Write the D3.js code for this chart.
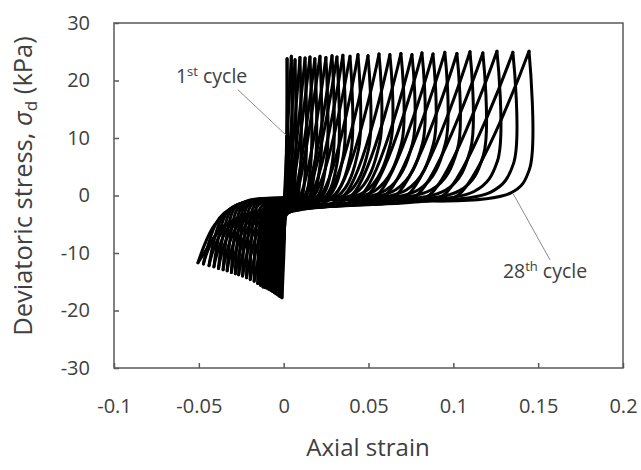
<!DOCTYPE html>
<html>
<head>
<meta charset="utf-8">
<script src="https://cdn.jsdelivr.net/npm/d3@7"></script>
<style>
  body { margin: 0; background: #ffffff; }
  text { font-family: "Open Sans", "Noto Sans", sans-serif; fill: #404040; }
</style>
</head>
<body>
<svg id="chart" width="641" height="470"></svg>
<script>
  // axis ticks
  var xTicks = [-0.1, -0.05, 0, 0.05, 0.1, 0.15, 0.2];
  var yTicks = [-30, -20, -10, 0, 10, 20, 30];

  // 28 cycles (strain, kPa)
  // compression peaks
  var peakStrain = [0.0020, 0.0045, 0.0067, 0.0096, 0.0126, 0.0155, 0.0184, 0.0214, 0.0249, 0.0285,
                    0.0314, 0.0349, 0.0391, 0.0438, 0.0497, 0.0562, 0.0626, 0.0691, 0.0756, 0.0815,
                    0.0880, 0.0950, 0.1021, 0.1098, 0.1174, 0.1257, 0.1351, 0.1446];
  var peakStress = [23.8, 24.2, 23.6, 24.0, 23.9, 24.1, 23.8, 24.2, 24.0, 24.3,
                    24.1, 24.4, 24.2, 24.5, 24.3, 24.6, 24.5, 24.7, 24.5, 24.8,
                    24.6, 24.9, 24.7, 25.0, 24.8, 25.1, 24.9, 25.1];
  // near-vertical unloading below each peak
  var vertStrain = [0.0022, 0.0048, 0.0070, 0.0099, 0.0129, 0.0158, 0.0187, 0.0217, 0.0252, 0.0288,
                    0.0317, 0.0352, 0.0394, 0.0441, 0.0500, 0.0565, 0.0629, 0.0694, 0.0759, 0.0818,
                    0.0883, 0.0953, 0.1024, 0.1101, 0.1177, 0.1260, 0.1354, 0.1448];
  var vertStress = [4, 4, 5, 5, 5, 5, 6, 6, 6, 6, 6, 7, 7, 8, 8, 9, 9, 9, 9, 9, 9, 9, 8, 8, 7, 6, 5.5, 4.5];
  // bottom-right knee of each loop
  var kneeStrain = [0.0012, 0.0030, 0.0045, 0.0066, 0.0090, 0.0110, 0.0132, 0.0155, 0.0182, 0.0210,
                    0.0232, 0.0255, 0.0281, 0.0318, 0.0367, 0.0422, 0.0476, 0.0536, 0.0601, 0.0660,
                    0.0725, 0.0795, 0.0871, 0.0953, 0.1034, 0.1122, 0.1221, 0.1336];
  var kneeStress = [-1.5, -1.4, -1.3, -1.2, -1.1, -1.0, -0.9, -0.8, -0.7, -0.6,
                    -0.5, -0.4, -0.3, -0.1, 0.2, 0.4, 0.6, 0.8, 0.9, 1.0,
                    1.0, 1.0, 1.0, 0.9, 0.8, 0.7, 0.6, 0.4];
  // stress where unloading passes zero strain
  var zeroStress = [-1.6, -1.5, -1.4, -1.3, -1.2, -1.1, -1.0, -1.0, -0.9, -0.9,
                    -0.8, -0.8, -0.8, -0.7, -0.7, -0.7, -0.6, -0.6, -0.6, -0.6,
                    -0.5, -0.5, -0.5, -0.5, -0.5, -0.5, -0.4, -0.4];
  // upper edge of the extension tail
  var shoulderStrain = [-0.0004, -0.0007, -0.0010, -0.0015, -0.0020, -0.0025, -0.0029, -0.0034, -0.0040, -0.0045,
                        -0.0050, -0.0055, -0.0062, -0.0069, -0.0078, -0.0089, -0.0099, -0.0109, -0.0119, -0.0128,
                        -0.0139, -0.0150, -0.0161, -0.0173, -0.0185, -0.0198, -0.0213, -0.0227];
  var shoulderStress = [-3.0, -2.8, -2.6, -2.4, -2.2, -2.0, -1.8, -1.6, -1.4, -1.3,
                        -1.2, -1.2, -1.1, -1.0, -0.9, -0.8, -0.75, -0.75, -0.75, -0.75,
                        -0.8, -0.8, -0.85, -0.85, -0.9, -0.95, -1.0, -1.05];
  var turnStrain = [-0.0008, -0.0014, -0.0020, -0.0028, -0.0036, -0.0044, -0.0052, -0.0060, -0.0070, -0.0080,
                    -0.0088, -0.0098, -0.0110, -0.0122, -0.0139, -0.0158, -0.0175, -0.0194, -0.0212, -0.0228,
                    -0.0246, -0.0266, -0.0286, -0.0307, -0.0329, -0.0352, -0.0378, -0.0404];
  var turnStress = [-8.0, -7.5, -7.0, -6.5, -6.0, -5.5, -5.0, -4.5, -4.0, -3.6,
                    -3.2, -2.9, -2.6, -2.4, -2.2, -2.0, -1.9, -1.8, -1.8, -1.8,
                    -1.9, -2.0, -2.1, -2.4, -2.7, -3.3, -3.9, -5.0];
  // extension peaks
  var extStrain = [-0.0010, -0.0018, -0.0025, -0.0035, -0.0045, -0.0055, -0.0065, -0.0075, -0.0088, -0.0100,
                   -0.0110, -0.0122, -0.0137, -0.0153, -0.0174, -0.0197, -0.0219, -0.0242, -0.0265, -0.0285,
                   -0.0308, -0.0333, -0.0357, -0.0384, -0.0411, -0.0440, -0.0473, -0.0505];
  var extStress = [-17.8, -17.6, -17.5, -17.3, -17.1, -16.9, -16.7, -16.5, -16.3, -16.1,
                   -16.0, -15.9, -15.6, -15.3, -14.9, -14.6, -14.3, -14.0, -13.8, -13.6,
                   -13.4, -13.1, -12.9, -12.7, -12.4, -12.2, -11.9, -11.7];
  // steep reloading out of each extension peak
  var riseStrain = [0.0005, 0.0003, 0.0005, 0.0005, 0.0005, 0.0000, 0.0000, -0.0005, -0.0010, -0.0015,
                    -0.0020, -0.0025, -0.0035, -0.0045, -0.0062, -0.0082, -0.0102, -0.0122, -0.0145, -0.0163,
                    -0.0186, -0.0210, -0.0233, -0.0258, -0.0283, -0.0310, -0.0340, -0.0370];
  var riseStress = [-6.0, -6.0, -5.8, -5.6, -5.5, -5.2, -5.0, -4.8, -4.6, -4.5,
                    -4.4, -4.3, -4.2, -4.1, -4.0, -3.9, -3.8, -3.8, -3.8, -3.8,
                    -3.8, -3.8, -3.9, -4.0, -4.2, -4.5, -5.0, -5.4];
  // lower band before each loading diagonal, and where the diagonal crosses zero stress
  var bandStrain = [0.0000, 0.0002, 0.0005, 0.0008, 0.0010, 0.0012, 0.0015, 0.0020, 0.0020, 0.0030,
                    0.0030, 0.0040, 0.0050, 0.0060, 0.0080, 0.0110, 0.0150, 0.0190, 0.0240, 0.0280,
                    0.0340, 0.0390, 0.0450, 0.0520, 0.0580, 0.0650, 0.0740, 0.0820];
  var bandStress = [-0.5, -3.2, -3.2, -3.1, -3.1, -3.0, -3.0, -2.9, -2.9, -2.8,
                    -2.8, -2.7, -2.6, -2.5, -2.4, -2.3, -2.2, -2.0, -1.9, -1.8,
                    -1.7, -1.6, -1.5, -1.4, -1.3, -1.2, -1.1, -1.0];
  var diagStrain = [0.0006, 0.0005, 0.0017, 0.0026, 0.0036, 0.0045, 0.0064, 0.0074, 0.0099, 0.0125,
                    0.0134, 0.0159, 0.0181, 0.0218, 0.0257, 0.0302, 0.0356, 0.0401, 0.0456, 0.0495,
                    0.0550, 0.0600, 0.0661, 0.0728, 0.0784, 0.0857, 0.0941, 0.1026];

  var svg = d3.select("svg#chart");
  var x = d3.scaleLinear().domain([-0.1, 0.2]).range([114, 623]);
  var y = d3.scaleLinear().domain([-30, 30]).range([368, 23]);

  // build loading / unloading branches of every cycle
  var branches = [];
  peakStrain.forEach(function (p, i) {
      var load = [];
      if (i > 0) {
          load.push([extStrain[i-1], extStress[i-1]]);
          load.push([riseStrain[i-1], riseStress[i-1]]);
      }
      load.push([bandStrain[i], bandStress[i]]);
      load.push([diagStrain[i], 0]);
      load.push([p, peakStress[i]]);
      branches.push(load);
      branches.push([
          [p, peakStress[i]],
          [vertStrain[i], vertStress[i]],
          [kneeStrain[i], kneeStress[i]],
          [0, zeroStress[i]],
          [shoulderStrain[i], shoulderStress[i]],
          [turnStrain[i], turnStress[i]],
          [extStrain[i], extStress[i]]
      ]);
  });
  // last reload out of the 28th extension peak
  branches.push([[extStrain[27], extStress[27]], [riseStrain[27], riseStress[27]]]);

  var line = d3.line()
      .x(d => x(d[0])).y(d => y(d[1]))
      .curve(d3.curveCatmullRom.alpha(0.5));

  svg.append("g").selectAll("path").data(branches).join("path")
      .attr("d", line)
      .attr("fill", "none").attr("stroke", "#000000")
      .attr("stroke-width", 3).attr("stroke-linejoin", "round").attr("stroke-linecap", "round");

  // frame
  svg.append("rect").attr("x", 114).attr("y", 23).attr("width", 509).attr("height", 345)
      .attr("fill", "none").attr("stroke", "#595959").attr("stroke-width", 1.5);

  var xAxis = svg.append("g").attr("transform", "translate(0,368)")
      .call(d3.axisBottom(x).tickValues(xTicks).tickSize(-5).tickPadding(31)
            .tickFormat(d => String(d)));
  var yAxis = svg.append("g").attr("transform", "translate(114,0)")
      .call(d3.axisLeft(y).tickValues(yTicks).tickSize(-5).tickPadding(24)
            .tickFormat(d => String(d)));
  [xAxis, yAxis].forEach(function (a) {
      a.select(".domain").remove();
      a.selectAll(".tick line").attr("stroke", "#595959").attr("stroke-width", 1.5);
      a.selectAll(".tick text").style("font-size", "20px").attr("fill", "#404040")
          .style("font-family", "'Open Sans', sans-serif");
  });

  // axis titles
  svg.append("text").attr("x", 368).attr("y", 456).attr("text-anchor", "middle")
      .style("font-size", "24px").text("Axial strain");
  var yt = svg.append("text").attr("transform", "translate(32,186) rotate(-90)")
      .attr("text-anchor", "middle").style("font-size", "25.5px");
  yt.append("tspan").text("Deviatoric stress, ");
  yt.append("tspan").style("font-style", "italic").text("σ");
  yt.append("tspan").attr("dy", 5).style("font-size", "17px").text("d");
  yt.append("tspan").attr("dy", -5).text(" (kPa)");

  // cycle annotations
  var notes = [
      {num: "1", sup: "st", tx: -0.0635, ty: 19.6, from: [-0.027, 18.4], to: [0.0014, 10.5]},
      {num: "28", sup: "th", tx: 0.1292, ty: -14.3, from: [0.1351, 0.4], to: [0.157, -11.2]}
  ];
  notes.forEach(function (n) {
      svg.append("line")
          .attr("x1", x(n.from[0])).attr("y1", y(n.from[1]))
          .attr("x2", x(n.to[0])).attr("y2", y(n.to[1]))
          .attr("stroke", "#8c8c8c").attr("stroke-width", 1);
      var t = svg.append("text").attr("x", x(n.tx)).attr("y", y(n.ty)).style("font-size", "19.5px");
      t.append("tspan").text(n.num);
      t.append("tspan").attr("dy", -7).style("font-size", "13px").text(n.sup);
      t.append("tspan").attr("dy", 7).text(" cycle");
  });
</script>
</body>
</html>
